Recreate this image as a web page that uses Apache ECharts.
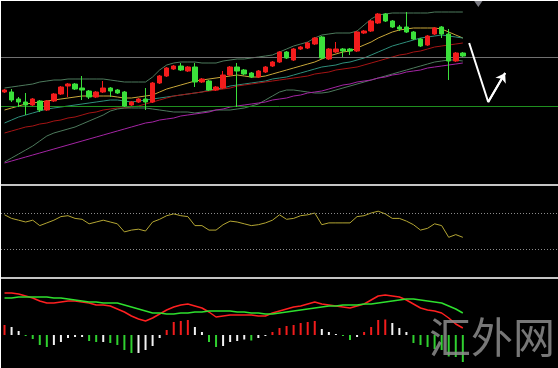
<!DOCTYPE html>
<html><head><meta charset="utf-8">
<script src="https://cdn.jsdelivr.net/npm/echarts@6/dist/echarts.min.js"></script>
<style>
html,body{margin:0;padding:0;background:#fff;width:558px;height:368px;overflow:hidden}
#c{position:absolute;left:1px;top:1px;width:557px;height:367px;background:#000}
</style></head><body><div id="c"></div>
<script>
// chart slots (66 bars + right-side shift space)
const SLOTS = 79;
// candles: [open, close, low, high]
const ohlc = [
[92,94,91,95],[92,84,82,95],[85,82,77,87],[82,79,69,91],[79,85,78,86],
[83,74,72,84],[74,83,73,84],[83,90,82,91],[90,97,89,98],[98,100,87,101],
[100,95,94,101],[96,94,84,108],[93,87,85,94],[87,92,86,93],[92,96,91,103],
[96,93,87,97],[94,91,90,95],[92,78,77,93],[79,82,78,83],[82,85,81,86],
[85,82,74,96],[82,101,81,102],[101,108,100,109],[108,116,107,117],[115,118,114,119],
[118,114,113,121],[113,117,112,118],[117,102,97,121],[102,105,101,106],[103,94,93,104],
[94,97,93,98],[96,109,95,113],[109,117,108,118],[117,113,77,121],[114,110,109,115],
[111,107,106,112],[107,113,106,114],[112,117,111,118],[118,122,117,123],[122,132,121,133],
[132,126,125,133],[124,135,123,136],[135,137,134,138],[136,141,135,142],[140,146,139,147],
[147,126,125,148],[125,135,124,136],[132,135,131,142],[135,133,127,136],[135,133,129,136],
[133,152,132,153],[151,153,150,154],[153,163,152,164],[161,170,160,171],[170,163,162,171],
[163,157,156,164],[157,155,153,159],[157,152,151,172],[152,145,144,153],[145,138,137,146],
[139,148,138,149],[150,156,149,157],[157,150,146,158],[150,123,104,155],[123,131,122,132],
[131,128,127,132]
];
const bbUpper = [96,97,98,99,100,102,103,104,104,105,105,105,105,105,105,104,103,102,102,102,102,107,114,119,121,122,122,122,121,121,121,123,124,125,125,126,127,128,129,132,135,138,140,142,146,149,150,151,151,151,153,159,165,169,170,171,171,171,171,171,171,172,172,172,172,172];
const maYellow = [74,76,78,80,81,82,83,84,85,86,87,88,88,88,88,88,87,86,86,87,88,89,92,95,97,99,101,103,104,105,106,107,108,109,108,107,107,108,110,112,114,116,118,120,122,125,128,130,132,133,136,139,142,146,149,152,154,155,156,156,156,156,155,152,149,146];
const maTeal = [61,64,67,69,71,73,75,76,77,78,79,80,81,82,83,84,84,83,82,83,84,85,86,87,88,89,90,91,92,94,95,96,98,99,100,101,102,103,105,106,107,109,111,113,115,117,118,119,121,122,124,126,129,132,135,138,140,142,144,146,147,148,149,148,147,146];
const maRed = [51,53,55,57,58,60,61,63,64,66,67,69,71,72,74,75,76,76,77,78,80,82,84,86,88,89,90,91,92,93,94,95,96,98,99,100,101,102,103,104,105,106,107,108,110,111,112,114,115,116,117,119,121,123,125,127,129,130,132,133,135,137,138,139,140,141];
const bbLower = [22,26,30,34,38,43,48,51,53,55,57,60,63,66,69,73,75,76,76,76,76,75,74,73,72,72,72,71,72,73,74,74,74,75,76,78,80,84,88,92,94,94,93,92,91,91,92,94,96,98,100,102,104,106,108,110,112,114,116,118,120,122,123,124,124,123];
const maPurple = [21,23,25,27,29,31,33,35,37,39,41,43,45,47,49,51,53,55,57,59,61,62,64,65,66,68,69,70,71,72,74,75,77,78,79,80,81,82,84,85,86,88,89,91,92,93,95,97,99,100,102,103,104,106,107,109,110,112,113,114,116,117,118,119,120,121];
const levels = {gray: 127, green: 78};
const rsi = [68,64,62,60,62,56,59,62,66,67,64,63,58,60,62,60,58,49,51,52,50,60,63,67,69,67,66,56,56,51,51,57,61,60,58,56,57,59,62,68,63,64,67,68,70,57,59,59,59,59,66,67,70,72,69,64,64,61,57,51,53,58,56,43,46,43];
const rsiLevels = [70, 30];
const macdHist = [10,8,4,-1,-4,-10,-12,-10,-7,-3,-2,-2,-6,-7,-7,-8,-10,-15,-18,-18,-15,-11,-3,5,13,14,15,8,3,-7,-12,-11,-7,-6,-4.5,-5.5,-3,-1,3,7,9,10,12,13,14,6,3,1,-1,-5,-2,3,8,15,15.5,12,7,3,-8,-10,-12,-14,-15,-21.5,-22,-27];
const macdMain = [42,42,41,39,37,34,32,32,33,34,34,33,32,30,30,29,26,23,19,16,14,17,21,25,28,30,31,29,27,23,18,19,20,20,20,20,19,19,22,24,26,28,29,31,33,31,30,29,28,27,29,31,35,39,40,39,38,35,31,27,25,24,22,17,11,7];
const macdSignal = [37,37,38,38,38,38,38,37,37,36,35,34,33,33,32,32,32,30,28,26,24,22,22,21,21,22,22,23,23,24,24,24,24,23,23,22,22,21,21,22,23,24,25,26,27,28,29,29,30,30,30,31,31,32,33,34,35,36,36,35,34,33,32,29,26,22];
const arrowPath = [[65.9,141],[68.6,82],[71,111]];
const topMarker = [[67.2,181]];
const watermark = '汇外网';

const categories = Array.from({length: SLOTS}, (_, i) => String(i + 1));
const RED = '#f21c1c', GREEN = '#3be03b', WHITE = '#f2f2f2';

const chart = echarts.init(document.getElementById('c'));
const W = 557;
const lineS = (data, color, w) => ({type:'line', data, xAxisIndex:0, yAxisIndex:0, showSymbol:false, symbol:'none',
  lineStyle:{color, width:w||1}, z:2, silent:true});
chart.setOption({
  animation:false,
  backgroundColor:'#000',
  grid:[
    {left:0, top:1, width:W, height:182},
    {left:0, top:185, width:W, height:90},
    {left:0, top:278, width:W, height:89}
  ],
  xAxis:[
    {type:'category', data:categories, gridIndex:0, show:false, boundaryGap:true},
    {type:'category', data:categories, gridIndex:1, show:false, boundaryGap:true},
    {type:'category', data:categories, gridIndex:2, show:false, boundaryGap:true},
    {type:'value', gridIndex:0, min:-0.5, max:SLOTS-0.5, show:false}
  ],
  yAxis:[
    {type:'value', gridIndex:0, min:0, max:182, show:false, splitLine:{show:false}},
    {type:'value', gridIndex:1, min:0, max:100, show:false, splitLine:{show:false}},
    {type:'value', gridIndex:2, min:-33, max:56, show:false, splitLine:{show:false}}
  ],
  graphic:[
    {type:'rect', shape:{x:0, y:183, width:W, height:2}, style:{fill:'#c4c4c4'}, z:100},
    {type:'rect', shape:{x:0, y:276, width:W, height:2}, style:{fill:'#c4c4c4'}, z:100},
    {type:'text', left:428, top:315, z:100, style:{text:watermark, fontSize:42,
      fontFamily:'"Noto Sans CJK SC"', fill:'rgba(140,140,140,0.85)'}}
  ],
  series:[
    {type:'candlestick', data:ohlc, xAxisIndex:0, yAxisIndex:0, barWidth:5, z:5,
     itemStyle:{color:RED, color0:GREEN, borderColor:RED, borderColor0:GREEN, borderWidth:1},
     markLine:{silent:true, symbol:['none','none'], label:{show:false},
       data:[{yAxis:levels.gray, lineStyle:{color:'#707070', width:1, type:'solid'}},
             {yAxis:levels.green, lineStyle:{color:'#1f8f1f', width:1, type:'solid'}}]}},
    lineS(bbUpper, '#4d7a5c'),
    lineS(maYellow, '#c9a83a'),
    lineS(maTeal, '#2f8f7c'),
    lineS(maRed, '#a51414'),
    lineS(bbLower, '#4d7a5c'),
    lineS(maPurple, '#a424a4'),
    {type:'line', data:rsi, xAxisIndex:1, yAxisIndex:1, showSymbol:false, symbol:'none',
     lineStyle:{color:'#b4a633', width:1}, silent:true,
     markLine:{silent:true, symbol:['none','none'], label:{show:false},
       lineStyle:{color:'#8c8c8c', width:1, type:[1,2]},
       data: rsiLevels.map(v => ({yAxis:v}))}},
    {type:'bar', data:macdHist, xAxisIndex:2, yAxisIndex:2, barWidth:2, silent:true,
     itemStyle:{color:p => {
       const i = p.dataIndex, v = macdHist[i], prev = i > 0 ? macdHist[i-1] : 0;
       if (v > 0 && v > prev) return RED;
       if (v < 0 && v < prev) return '#2fd02f';
       return WHITE;
     }}},
    {type:'line', data:macdMain, xAxisIndex:2, yAxisIndex:2, showSymbol:false, symbol:'none',
     lineStyle:{color:'#ff2020', width:1.5}, silent:true},
    {type:'line', data:macdSignal, xAxisIndex:2, yAxisIndex:2, showSymbol:false, symbol:'none',
     lineStyle:{color:'#2ee02e', width:1.5}, silent:true},
    {type:'line', data:arrowPath, xAxisIndex:3, yAxisIndex:0, showSymbol:false, symbol:'none',
     lineStyle:{color:'#fff', width:2}, z:10, silent:true,
     markLine:{silent:true, label:{show:false}, symbolSize:9,
       lineStyle:{color:'#fff', width:2, type:'solid'},
       data:[[{coord:arrowPath[1], symbol:'none'}, {coord:arrowPath[2], symbol:'arrow'}]]}},
    {type:'scatter', data:topMarker, xAxisIndex:3, yAxisIndex:0, symbol:'triangle', symbolRotate:180,
     symbolSize:[11,8], itemStyle:{color:'#9a9aa4'}, silent:true, clip:false}
  ]
});
</script></body></html>
